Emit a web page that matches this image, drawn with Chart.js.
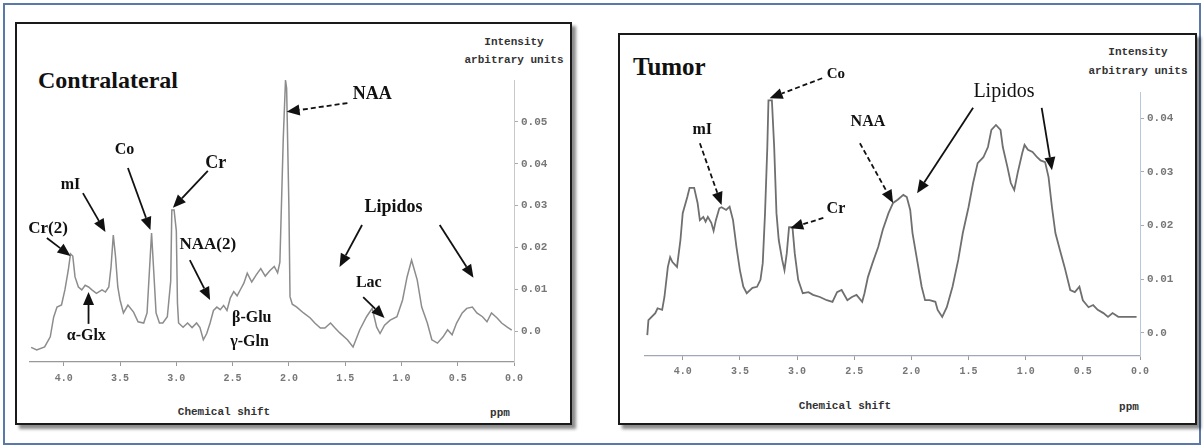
<!DOCTYPE html>
<html>
<head>
<meta charset="utf-8">
<script src="https://cdn.jsdelivr.net/npm/chart.js@4.4.0/dist/chart.umd.min.js"></script>
<style>
body { margin: 0; background: #fff; }
#hoja { position: relative; width: 1204px; height: 448px; overflow: hidden; font-family: "Liberation Serif", serif; }
.marco { position: absolute; left: 3px; top: 3px; width: 1198px; height: 442px; border: 2px solid #5b78a8; box-sizing: border-box; }
.caja { position: absolute; border: 2px solid #1a1a1a; box-sizing: border-box; background: #fff; box-shadow: 4px 4px 3px rgba(0,0,0,.45); }
canvas { position: absolute; }
.t { position: absolute; white-space: nowrap; color: #111; line-height: 1; }
.titulo { font-weight: bold; }
.mono { font-family: "Liberation Mono", monospace; font-weight: bold; font-size: 11px; color: #333; text-align: center; width: 140px; }
</style>
</head>
<body>
<div id="hoja">
  <div class="marco"></div>
  <div class="caja" style="left:15px; top:22px; width:557px; height:403px;"></div>
  <div class="caja" style="left:618px; top:33px; width:579px; height:392px;"></div>

  <div class="t titulo" style="left:38px; top:68px; font-size:24px;">Contralateral</div>
  <div class="t mono" style="left:444px; top:37px;">Intensity</div>
  <div class="t mono" style="left:444px; top:55px;">arbitrary units</div>
  <div class="t mono" style="left:154px; top:407px;">Chemical shift</div>
  <div class="t mono" style="left:430px; top:408px;">ppm</div>

  <div class="t titulo" style="left:633px; top:54px; font-size:25px;">Tumor</div>
  <div class="t mono" style="left:1068px; top:47px;">Intensity</div>
  <div class="t mono" style="left:1068px; top:66px;">arbitrary units</div>
  <div class="t mono" style="left:775px; top:401px;">Chemical shift</div>
  <div class="t mono" style="left:1059px; top:402px;">ppm</div>

  <canvas id="izq" width="557" height="403" style="left:15px; top:22px;"></canvas>
  <canvas id="der" width="579" height="392" style="left:618px; top:33px;"></canvas>
</div>

<script>
// desplazamiento quimico (ppm) e intensidad
const ppmContra = [4.29, 4.24, 4.17, 4.12, 4.09, 4.06, 4.02, 3.99, 3.96, 3.94, 3.92, 3.90, 3.87, 3.84, 3.81, 3.78, 3.75, 3.71, 3.66, 3.63,
  3.60, 3.58, 3.56, 3.54, 3.52, 3.50, 3.47, 3.43, 3.38, 3.34, 3.29, 3.26, 3.24, 3.22, 3.20, 3.18, 3.15, 3.12, 3.08, 3.05,
  3.04, 3.02, 3.00, 2.99, 2.98, 2.94, 2.90, 2.86, 2.82, 2.79, 2.76, 2.73, 2.70, 2.67, 2.64, 2.61, 2.58, 2.55, 2.52, 2.49,
  2.46, 2.43, 2.40, 2.37, 2.33, 2.29, 2.25, 2.21, 2.17, 2.13, 2.10, 2.08, 2.05, 2.03, 2.02, 2.00, 1.99, 1.97, 1.93, 1.87,
  1.81, 1.77, 1.72, 1.68, 1.63, 1.59, 1.55, 1.48, 1.43, 1.37, 1.31, 1.26, 1.22, 1.19, 1.15, 1.10, 1.04, 0.99, 0.95, 0.91,
  0.86, 0.82, 0.77, 0.73, 0.68, 0.63, 0.59, 0.55, 0.51, 0.46, 0.42, 0.37, 0.33, 0.28, 0.24, 0.20, 0.15, 0.11, 0.06, 0.02];
const intContra = [-0.0038, -0.0044, -0.0037, -0.0013, 0.0034, 0.0058, 0.0063, 0.0099, 0.0146, 0.0185, 0.0180, 0.0130, 0.0106, 0.0099, 0.0110, 0.0106, 0.0099, 0.0091, 0.0099, 0.0094,
  0.0106, 0.0154, 0.0230, 0.0178, 0.0106, 0.0075, 0.0044, 0.0063, 0.0046, 0.0023, 0.0020, 0.0044, 0.0140, 0.0235, 0.0140, 0.0044, 0.0020, 0.0020, 0.0035, 0.0120,
  0.0290, 0.0290, 0.0240, 0.0068, 0.0020, 0.0010, 0.0020, 0.0009, 0.0020, 0.0009, -0.0020, -0.0005, 0.0020, 0.0050, 0.0058, 0.0052, 0.0062, 0.0050, 0.0080, 0.0095,
  0.0085, 0.0100, 0.0115, 0.0139, 0.0118, 0.0135, 0.0150, 0.0132, 0.0145, 0.0155, 0.0140, 0.0165, 0.0460, 0.0600, 0.0580, 0.0300, 0.0083, 0.0065, 0.0058, 0.0044,
  0.0032, 0.0020, 0.0008, 0.0008, 0.0020, 0.0008, -0.0003, -0.0020, -0.0037, 0.0004, 0.0035, 0.0055, 0.0010, -0.0005, 0.0015, 0.0027, 0.0035, 0.0075, 0.0130, 0.0170,
  0.0123, 0.0058, 0.0020, -0.0020, -0.0028, -0.0013, 0.0004, -0.0008, 0.0020, 0.0044, 0.0055, 0.0058, 0.0044, 0.0035, 0.0023, 0.0044, 0.0032, 0.0020, 0.0010, 0.0003];

const ppmTumor = [4.31, 4.30, 4.24, 4.22, 4.18, 4.16, 4.13, 4.11, 4.09, 4.05, 4.02, 4.00, 3.96, 3.94, 3.90, 3.87, 3.85, 3.82, 3.80, 3.78,
  3.75, 3.73, 3.71, 3.68, 3.66, 3.62, 3.59, 3.56, 3.53, 3.50, 3.47, 3.44, 3.39, 3.35, 3.32, 3.30, 3.28, 3.26, 3.25, 3.22,
  3.20, 3.18, 3.16, 3.13, 3.11, 3.09, 3.07, 3.04, 3.02, 2.99, 2.95, 2.90, 2.86, 2.80, 2.74, 2.69, 2.65, 2.61, 2.56, 2.52,
  2.48, 2.43, 2.41, 2.38, 2.34, 2.29, 2.25, 2.20, 2.16, 2.12, 2.07, 2.04, 2.01, 1.99, 1.95, 1.91, 1.88, 1.84, 1.79, 1.77,
  1.73, 1.69, 1.64, 1.59, 1.55, 1.50, 1.46, 1.42, 1.37, 1.33, 1.30, 1.26, 1.22, 1.20, 1.16, 1.13, 1.10, 1.07, 1.03, 1.01,
  0.98, 0.94, 0.90, 0.87, 0.83, 0.80, 0.77, 0.74, 0.70, 0.66, 0.61, 0.57, 0.53, 0.50, 0.45, 0.41, 0.37, 0.32, 0.28, 0.24,
  0.19, 0.11, 0.03];
const intTumor = [-0.0004, 0.0024, 0.0037, 0.0046, 0.0043, 0.0067, 0.0123, 0.0141, 0.0132, 0.0123, 0.0173, 0.0223, 0.0253, 0.0270, 0.0270, 0.0242, 0.0210, 0.0216, 0.0207, 0.0216,
  0.0205, 0.0190, 0.0210, 0.0232, 0.0234, 0.0229, 0.0235, 0.0210, 0.0160, 0.0117, 0.0086, 0.0074, 0.0084, 0.0086, 0.0099, 0.0130, 0.0223, 0.0346, 0.0433, 0.0433,
  0.0346, 0.0223, 0.0173, 0.0136, 0.0117, 0.0148, 0.0197, 0.0197, 0.0148, 0.0099, 0.0074, 0.0076, 0.0071, 0.0067, 0.0061, 0.0058, 0.0076, 0.0080, 0.0061, 0.0067,
  0.0071, 0.0058, 0.0074, 0.0104, 0.0130, 0.0160, 0.0192, 0.0223, 0.0242, 0.0248, 0.0257, 0.0253, 0.0229, 0.0186, 0.0136, 0.0086, 0.0061, 0.0061, 0.0058, 0.0043,
  0.0030, 0.0048, 0.0086, 0.0136, 0.0186, 0.0234, 0.0279, 0.0316, 0.0327, 0.0346, 0.0378, 0.0387, 0.0378, 0.0346, 0.0309, 0.0279, 0.0266, 0.0298, 0.0335, 0.0350,
  0.0341, 0.0337, 0.0327, 0.0321, 0.0318, 0.0290, 0.0234, 0.0186, 0.0154, 0.0123, 0.0080, 0.0076, 0.0086, 0.0061, 0.0048, 0.0052, 0.0043, 0.0037, 0.0030, 0.0037,
  0.0030, 0.0030, 0.0030];

const ticksPpm = [4.0, 3.5, 3.0, 2.5, 2.0, 1.5, 1.0, 0.5, 0.0];
const ticksContra = [0, 0.01, 0.02, 0.03, 0.04, 0.05];
const ticksTumor = [0, 0.01, 0.02, 0.03, 0.04];

// etiquetas: texto en (ppm, intensidad), flecha [ppm0, int0, ppm1, int1]
const notasContra = [
  { texto: 'NAA', ppm: 1.26, val: 0.0565, fuente: 'bold 18px "Liberation Serif"', flecha: [1.48, 0.0545, 2.02, 0.0524], rayas: true },
  { texto: 'Co', ppm: 3.46, val: 0.0433, fuente: 'bold 16px "Liberation Serif"', flecha: [3.43, 0.0390, 3.23, 0.0242] },
  { texto: 'Cr', ppm: 2.65, val: 0.0402, fuente: 'bold 18px "Liberation Serif"', flecha: [2.72, 0.0383, 3.03, 0.0295] },
  { texto: 'mI', ppm: 3.94, val: 0.0350, fuente: 'bold 16px "Liberation Serif"', flecha: [3.83, 0.0330, 3.63, 0.0237] },
  { texto: 'Cr(2)', ppm: 4.14, val: 0.0245, fuente: 'bold 17px "Liberation Serif"', flecha: [4.15, 0.0223, 3.94, 0.0180] },
  { texto: 'α-Glx', ppm: 3.80, val: -0.0011, fuente: 'bold 16px "Liberation Serif"', flecha: [3.78, 0.0018, 3.78, 0.0094] },
  { texto: 'NAA(2)', ppm: 2.72, val: 0.0206, fuente: 'bold 17px "Liberation Serif"', flecha: [2.88, 0.0170, 2.70, 0.0075] },
  { texto: 'β-Glu', ppm: 2.33, val: 0.0032, fuente: 'bold 16px "Liberation Serif"' },
  { texto: 'γ-Gln', ppm: 2.35, val: -0.0025, fuente: 'bold 16px "Liberation Serif"' },
  { texto: 'Lipidos', ppm: 1.07, val: 0.0297, fuente: 'bold 18px "Liberation Serif"', flecha: [1.35, 0.0254, 1.55, 0.0154] },
  { flecha: [0.66, 0.0254, 0.36, 0.0128] },
  { texto: 'Lac', ppm: 1.29, val: 0.0116, fuente: 'bold 16px "Liberation Serif"', flecha: [1.34, 0.0082, 1.15, 0.0032] }
];

const notasTumor = [
  { texto: 'Co', ppm: 2.66, val: 0.0482, fuente: 'bold 15px "Liberation Serif"', flecha: [2.78, 0.0474, 3.24, 0.0437], rayas: true },
  { texto: 'mI', ppm: 3.83, val: 0.0378, fuente: 'bold 16px "Liberation Serif"', flecha: [3.85, 0.0353, 3.66, 0.0238], rayas: true },
  { texto: 'Cr', ppm: 2.66, val: 0.0231, fuente: 'bold 16px "Liberation Serif"', flecha: [2.77, 0.0214, 3.06, 0.0195], rayas: true },
  { texto: 'NAA', ppm: 2.38, val: 0.0393, fuente: 'bold 16px "Liberation Serif"', flecha: [2.45, 0.0353, 2.16, 0.0242], rayas: true },
  { texto: 'Lipidos', ppm: 1.19, val: 0.0448, fuente: '20px "Liberation Serif"', flecha: [1.46, 0.0419, 1.95, 0.0260] },
  { flecha: [0.86, 0.0419, 0.77, 0.0303] }
];

function hacerNotas(items) {
  return {
    id: 'notas',
    afterDatasetsDraw(chart) {
      const ctx = chart.ctx;
      const sx = chart.scales.x, sy = chart.scales.y;
      ctx.save();
      ctx.fillStyle = '#111';
      ctx.strokeStyle = '#111';
      for (const n of items) {
        if (n.flecha) {
          const x0 = sx.getPixelForValue(n.flecha[0]), y0 = sy.getPixelForValue(n.flecha[1]);
          const x1 = sx.getPixelForValue(n.flecha[2]), y1 = sy.getPixelForValue(n.flecha[3]);
          const ang = Math.atan2(y1 - y0, x1 - x0);
          const largo = 13, ancho = 5.5;
          const bx = x1 - largo * Math.cos(ang), by = y1 - largo * Math.sin(ang);
          ctx.lineWidth = 1.8;
          ctx.setLineDash(n.rayas ? [5, 3] : []);
          ctx.beginPath();
          ctx.moveTo(x0, y0);
          ctx.lineTo(bx, by);
          ctx.stroke();
          ctx.setLineDash([]);
          ctx.beginPath();
          ctx.moveTo(x1, y1);
          ctx.lineTo(bx + ancho * Math.sin(ang), by - ancho * Math.cos(ang));
          ctx.lineTo(bx - ancho * Math.sin(ang), by + ancho * Math.cos(ang));
          ctx.closePath();
          ctx.fill();
        }
        if (n.texto) {
          ctx.font = n.fuente;
          ctx.textAlign = 'center';
          ctx.textBaseline = 'middle';
          ctx.fillText(n.texto, sx.getPixelForValue(n.ppm), sy.getPixelForValue(n.val));
        }
      }
      ctx.restore();
    }
  };
}

function grafico(id, xs, ys, c) {
  return new Chart(document.getElementById(id), {
    type: 'line',
    data: {
      datasets: [{
        data: xs.map((x, i) => ({ x: x, y: ys[i] })),
        borderColor: c.color,
        borderWidth: c.grosor,
        pointRadius: 0,
        tension: 0,
        clip: false
      }]
    },
    options: {
      responsive: false,
      animation: false,
      events: [],
      layout: { padding: { left: c.izq, top: c.arriba, right: 0, bottom: 0 } },
      plugins: { legend: { display: false }, tooltip: { enabled: false } },
      scales: {
        x: {
          type: 'linear', reverse: true, min: 0, max: c.xmax,
          afterBuildTicks: s => { s.ticks = ticksPpm.map(v => ({ value: v })); },
          afterFit: s => { s.height = c.altoX; },
          ticks: { callback: v => v.toFixed(1), autoSkip: false, maxRotation: 0, padding: c.padX, color: '#777',
                   font: { family: 'Liberation Mono', size: 10, weight: 'bold' } },
          grid: { drawOnChartArea: false, tickLength: 4, color: '#999' },
          border: { color: c.ejeX, width: 1.2, dash: c.rayasX }
        },
        y: {
          position: 'right', min: c.ymin, max: c.ymax,
          afterBuildTicks: s => { s.ticks = c.ticksY.map(v => ({ value: v })); },
          afterFit: s => { s.width = c.anchoY; },
          ticks: { callback: v => v === 0 ? '0.0' : v.toFixed(2), autoSkip: false, padding: 3, color: '#777',
                   font: { family: 'Liberation Mono', size: 11, weight: 'bold' } },
          grid: { drawOnChartArea: false, tickLength: 4, color: '#aaa' },
          border: { color: c.ejeY, width: 1, dash: c.rayasY }
        }
      }
    },
    plugins: [hacerNotas(c.notas)]
  });
}

grafico('izq', ppmContra, intContra, {
  color: '#8c8c8c', grosor: 1.5, izq: 15, arriba: 58, xmax: 4.3, altoX: 63, anchoY: 58,
  ymin: -0.0073, ymax: 0.06, ticksY: ticksContra, padX: 6,
  ejeX: '#999', rayasX: [], ejeY: '#c8c8c8', rayasY: [], notas: notasContra
});

grafico('der', ppmTumor, intTumor, {
  color: '#6f6f6f', grosor: 1.8, izq: 27, arriba: 59, xmax: 4.33, altoX: 69, anchoY: 57,
  ymin: -0.00428, ymax: 0.04484, ticksY: ticksTumor, padX: 5,
  ejeX: '#a0a8b8', rayasX: [2, 2], ejeY: '#b8c8dc', rayasY: [2, 2], notas: notasTumor
});
</script>
</body>
</html>
